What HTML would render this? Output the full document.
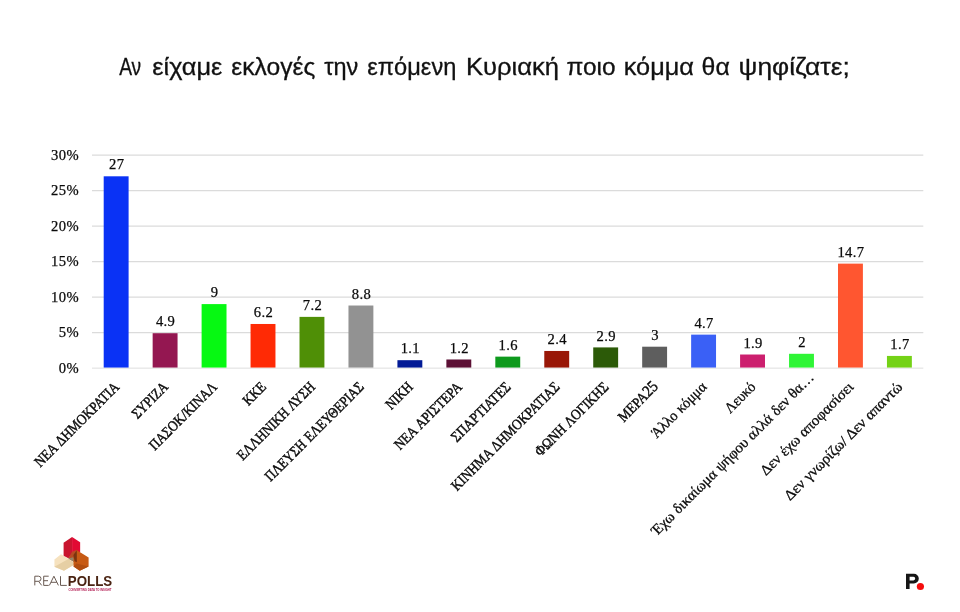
<!DOCTYPE html><html><head><meta charset="utf-8"><title>chart</title><style>
html,body{margin:0;padding:0;background:#fff}body{width:960px;height:612px;overflow:hidden;position:relative;font-family:"Liberation Sans",sans-serif}
svg{position:absolute;left:0;top:0;will-change:transform}
.t{font-family:"Liberation Sans",sans-serif;fill:#111}.tt{stroke:#111;stroke-width:0.3px}.s{font-family:"Liberation Serif",serif;fill:#0a0a0a}.b{stroke:#0a0a0a;stroke-width:0.42px}.lc{stroke:#0a0a0a;stroke-width:0.3px}.v{stroke:#0a0a0a;stroke-width:0.25px;letter-spacing:0.35px}
</style></head><body>
<svg width="960" height="612" viewBox="0 0 960 612">
<text class="t tt" x="119.15" y="75.2" font-size="23.2" textLength="22.05" lengthAdjust="spacingAndGlyphs">Αν</text>
<text class="t tt" x="152.30" y="75.2" font-size="23.2" textLength="70.04" lengthAdjust="spacingAndGlyphs">είχαμε</text>
<text class="t tt" x="231.30" y="75.2" font-size="23.2" textLength="84.04" lengthAdjust="spacingAndGlyphs">εκλογές</text>
<text class="t tt" x="324.15" y="75.2" font-size="23.2" textLength="34.08" lengthAdjust="spacingAndGlyphs">την</text>
<text class="t tt" x="367.30" y="75.2" font-size="23.2" textLength="89.05" lengthAdjust="spacingAndGlyphs">επόμενη</text>
<text class="t tt" x="465.90" y="75.2" font-size="23.2" textLength="93.15" lengthAdjust="spacingAndGlyphs">Κυριακή</text>
<text class="t tt" x="566.45" y="75.2" font-size="23.2" textLength="49.05" lengthAdjust="spacingAndGlyphs">ποιο</text>
<text class="t tt" x="623.75" y="75.2" font-size="23.2" textLength="70.11" lengthAdjust="spacingAndGlyphs">κόμμα</text>
<text class="t tt" x="701.60" y="75.2" font-size="23.2" textLength="28.18" lengthAdjust="spacingAndGlyphs">θα</text>
<text class="t tt" x="738.60" y="75.2" font-size="23.2" textLength="111.17" lengthAdjust="spacingAndGlyphs">ψηφίζατε;</text>
<line x1="92.0" x2="923.3" y1="368.15" y2="368.15" stroke="#dbdbdb" stroke-width="0.9"/>
<text class="s v" style="letter-spacing:0.55px" x="79.3" y="372.50" font-size="14.6" text-anchor="end">0%</text>
<line x1="92.0" x2="923.3" y1="332.50" y2="332.50" stroke="#dbdbdb" stroke-width="1.25"/>
<text class="s v" style="letter-spacing:0.55px" x="79.3" y="337.00" font-size="14.6" text-anchor="end">5%</text>
<line x1="92.0" x2="923.3" y1="297.00" y2="297.00" stroke="#dbdbdb" stroke-width="1.25"/>
<text class="s v" style="letter-spacing:0.55px" x="79.3" y="301.50" font-size="14.6" text-anchor="end">10%</text>
<line x1="92.0" x2="923.3" y1="261.50" y2="261.50" stroke="#dbdbdb" stroke-width="1.25"/>
<text class="s v" style="letter-spacing:0.55px" x="79.3" y="266.00" font-size="14.6" text-anchor="end">15%</text>
<line x1="92.0" x2="923.3" y1="226.00" y2="226.00" stroke="#dbdbdb" stroke-width="1.25"/>
<text class="s v" style="letter-spacing:0.55px" x="79.3" y="230.50" font-size="14.6" text-anchor="end">20%</text>
<line x1="92.0" x2="923.3" y1="190.50" y2="190.50" stroke="#dbdbdb" stroke-width="1.25"/>
<text class="s v" style="letter-spacing:0.55px" x="79.3" y="195.00" font-size="14.6" text-anchor="end">25%</text>
<line x1="92.0" x2="923.3" y1="155.00" y2="155.00" stroke="#dbdbdb" stroke-width="1.25"/>
<text class="s v" style="letter-spacing:0.55px" x="79.3" y="159.50" font-size="14.6" text-anchor="end">30%</text>
<rect x="103.70" y="176.30" width="24.9" height="191.25" fill="#0a32f5"/>
<text class="s v" x="116.65" y="169.40" font-size="14.6" text-anchor="middle">27</text>
<text class="s b" font-size="14.8" text-anchor="end" word-spacing="1.2" transform="translate(120.05,387.80) rotate(-45) scale(0.876,1)">ΝΕΑ ΔΗΜΟΚΡΑΤΙΑ</text>
<rect x="152.65" y="333.21" width="24.9" height="34.34" fill="#941751"/>
<text class="s v" x="165.60" y="326.31" font-size="14.6" text-anchor="middle">4.9</text>
<text class="s b" font-size="14.8" text-anchor="end" word-spacing="1.2" transform="translate(169.00,387.80) rotate(-45) scale(0.858,1)">ΣΥΡΙΖΑ</text>
<rect x="201.61" y="304.10" width="24.9" height="63.45" fill="#06f912"/>
<text class="s v" x="214.56" y="297.20" font-size="14.6" text-anchor="middle">9</text>
<text class="s b" font-size="14.8" text-anchor="end" word-spacing="1.2" transform="translate(217.96,387.80) rotate(-45) scale(0.868,1)">ΠΑΣΟΚ/ΚΙΝΑΛ</text>
<rect x="250.56" y="323.98" width="24.9" height="43.57" fill="#ff2a05"/>
<text class="s v" x="263.51" y="317.08" font-size="14.6" text-anchor="middle">6.2</text>
<text class="s b" font-size="14.8" text-anchor="end" word-spacing="1.2" transform="translate(266.91,387.80) rotate(-45) scale(0.858,1)">ΚΚΕ</text>
<rect x="299.51" y="316.88" width="24.9" height="50.67" fill="#4f8f06"/>
<text class="s v" x="312.46" y="309.98" font-size="14.6" text-anchor="middle">7.2</text>
<text class="s b" font-size="14.8" text-anchor="end" word-spacing="1.2" transform="translate(315.86,387.80) rotate(-45) scale(0.858,1)">ΕΛΛΗΝΙΚΗ ΛΥΣΗ</text>
<rect x="348.47" y="305.52" width="24.9" height="62.03" fill="#929292"/>
<text class="s v" x="361.42" y="298.62" font-size="14.6" text-anchor="middle">8.8</text>
<text class="s b" font-size="14.8" text-anchor="end" word-spacing="1.2" transform="translate(364.81,387.80) rotate(-45) scale(0.858,1)">ΠΛΕΥΣΗ ΕΛΕΥΘΕΡΙΑΣ</text>
<rect x="397.42" y="360.19" width="24.9" height="7.36" fill="#021a96"/>
<text class="s v" x="410.37" y="353.29" font-size="14.6" text-anchor="middle">1.1</text>
<text class="s b" font-size="14.8" text-anchor="end" word-spacing="1.2" transform="translate(413.77,387.80) rotate(-45) scale(0.858,1)">ΝΙΚΗ</text>
<rect x="446.37" y="359.48" width="24.9" height="8.07" fill="#5c1035"/>
<text class="s v" x="459.32" y="352.58" font-size="14.6" text-anchor="middle">1.2</text>
<text class="s b" font-size="14.8" text-anchor="end" word-spacing="1.2" transform="translate(462.72,387.80) rotate(-45) scale(0.874,1)">ΝΕΑ ΑΡΙΣΤΕΡΑ</text>
<rect x="495.32" y="356.64" width="24.9" height="10.91" fill="#0e9a1d"/>
<text class="s v" x="508.27" y="349.74" font-size="14.6" text-anchor="middle">1.6</text>
<text class="s b" font-size="14.8" text-anchor="end" word-spacing="1.2" transform="translate(511.67,387.80) rotate(-45) scale(0.883,1)">ΣΠΑΡΤΙΑΤΕΣ</text>
<rect x="544.28" y="350.96" width="24.9" height="16.59" fill="#991707"/>
<text class="s v" x="557.23" y="344.06" font-size="14.6" text-anchor="middle">2.4</text>
<text class="s b" font-size="14.8" text-anchor="end" word-spacing="1.2" transform="translate(560.63,387.80) rotate(-45) scale(0.873,1)">ΚΙΝΗΜΑ ΔΗΜΟΚΡΑΤΙΑΣ</text>
<rect x="593.23" y="347.41" width="24.9" height="20.14" fill="#2c5a08"/>
<text class="s v" x="606.18" y="340.51" font-size="14.6" text-anchor="middle">2.9</text>
<text class="s b" font-size="14.8" text-anchor="end" word-spacing="1.2" transform="translate(609.58,387.80) rotate(-45) scale(0.877,1)">ΦΩΝΗ ΛΟΓΙΚΗΣ</text>
<rect x="642.18" y="346.70" width="24.9" height="20.85" fill="#5e5e5e"/>
<text class="s v" x="655.13" y="339.80" font-size="14.6" text-anchor="middle">3</text>
<text class="s b" font-size="14.8" text-anchor="end" word-spacing="1.2" transform="translate(659.03,387.30) rotate(-45) scale(0.89,1)">ΜΕΡΑ<tspan font-size="16.4">25</tspan></text>
<rect x="691.14" y="334.63" width="24.9" height="32.92" fill="#3a60f6"/>
<text class="s v" x="704.09" y="327.73" font-size="14.6" text-anchor="middle">4.7</text>
<text class="s lc" font-size="14.8" text-anchor="end" word-spacing="0.5" transform="translate(707.49,387.80) rotate(-45) scale(0.962,1)">Άλλο κόμμα</text>
<rect x="740.09" y="354.51" width="24.9" height="13.04" fill="#cc1f6e"/>
<text class="s v" x="753.04" y="347.61" font-size="14.6" text-anchor="middle">1.9</text>
<text class="s lc" font-size="14.8" text-anchor="end" word-spacing="0.5" transform="translate(756.44,387.80) rotate(-45) scale(0.955,1)">Λευκό</text>
<rect x="789.04" y="353.80" width="24.9" height="13.75" fill="#2ff536"/>
<text class="s v" x="801.99" y="346.90" font-size="14.6" text-anchor="middle">2</text>
<text class="s lc" font-size="14.8" text-anchor="end" word-spacing="0.5" transform="translate(814.89,378.30) rotate(-45) scale(1.005,1)">Έχω δικαίωμα ψήφου αλλά δεν θα…</text>
<rect x="838.00" y="263.63" width="24.9" height="103.92" fill="#ff5630"/>
<text class="s v" x="850.95" y="256.73" font-size="14.6" text-anchor="middle">14.7</text>
<text class="s lc" font-size="14.8" text-anchor="end" word-spacing="0.5" transform="translate(854.35,387.80) rotate(-45) scale(1.025,1)">Δεν έχω αποφασίσει</text>
<rect x="886.95" y="355.93" width="24.9" height="11.62" fill="#74d216"/>
<text class="s v" x="899.90" y="349.03" font-size="14.6" text-anchor="middle">1.7</text>
<text class="s lc" font-size="14.8" text-anchor="end" word-spacing="0.5" transform="translate(903.30,387.80) rotate(-45) scale(1.03,1)">Δεν γνωρίζω/ Δεν απαντώ</text>
<path fill="#161616" fill-rule="evenodd" d="M906,573.7 H913.9 A4.9,4.9 0 0 1 913.9,583.5 H909.6 V589.1 H906 Z M909.6,576.8 H913.4 A1.8,1.8 0 0 1 913.4,580.4 H909.6 Z"/>
<circle cx="920.4" cy="586.5" r="3.6" fill="#f50d0d"/>
<polygon points="54.41,559.41 61.03,554.26 68.38,558.68 75.74,563.82 63.97,570.81 54.41,566.76" fill="#f6e2bf"/>
<polygon points="54.41,566.76 68.38,559.04 75.74,563.82 63.97,570.81" fill="#e6cfa4"/>
<polygon points="63.60,542.87 72.06,536.99 72.06,554.26 68.38,558.31 63.60,555.74" fill="#c9152f"/>
<polygon points="72.06,536.99 80.15,542.13 80.15,552.06 72.06,554.26" fill="#e20a33"/>
<polygon points="68.38,558.46 72.06,551.69 77.21,549.85 75.37,562.72" fill="#b84a22"/>
<polygon points="68.38,558.53 73.16,557.35 75.37,562.72" fill="#8f8468"/>
<polygon points="76.84,550.22 88.60,557.57 88.60,566.40 79.78,570.81 73.53,566.40 73.53,557.94" fill="#c75a14"/>
<polygon points="76.84,550.22 73.38,555.00 74.63,561.25 76.84,562.35" fill="#7a3410"/>
<polygon points="73.53,566.40 76.47,563.46 88.60,566.40 79.78,570.81" fill="#b04d10"/>
<path fill="none" stroke="#6a5b53" stroke-width="1" stroke-linejoin="round" d="M34.8,585.4 V576.2 H38.5 A2.55,2.55 0 0 1 38.5,581.3 H34.8 M38.5,581.3 L41.7,585.4 M48.7,576.2 H43.7 V585.4 H48.7 M43.7,580.7 H48 M49.4,585.4 L53.9,576.2 L58.4,585.4 M51,582.3 H56.8 M60.5,576.2 V585.4 H66.8"/>
<text class="t" x="67.8" y="585.6" font-size="14.2" font-weight="bold" style="fill:#4a2413" textLength="44.4" lengthAdjust="spacingAndGlyphs">POLLS</text>
<text class="t" x="68.4" y="590.5" font-size="2.7" font-weight="bold" style="fill:#b0184f" textLength="43.2" lengthAdjust="spacingAndGlyphs">CONVERTING DATA TO INSIGHT</text>
</svg></body></html>
